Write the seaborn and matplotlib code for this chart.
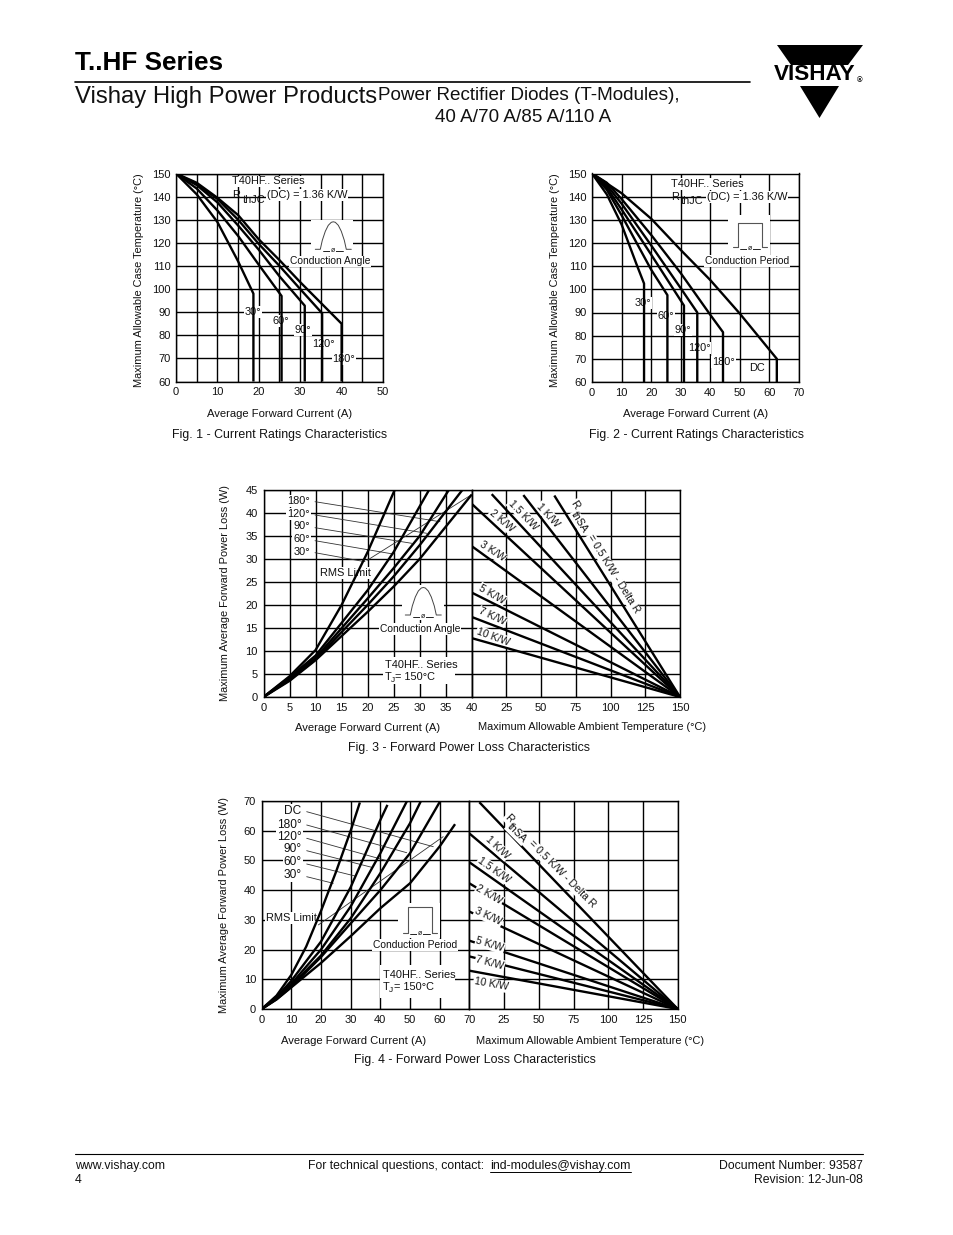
import matplotlib
matplotlib.use("Agg")
import matplotlib.pyplot as plt
from matplotlib.patches import Polygon, Rectangle
import seaborn as sns

# --- Fig. 1: corriente vs temperatura de caja (angulo de conduccion) ---
f1_30_x = [0, 5, 10, 15, 18.7, 18.7]
f1_30_y = [150, 141, 129, 112, 98, 60]
f1_60_x = [0, 5, 10, 15, 20, 25.5, 25.5]
f1_60_y = [150, 143.5, 134, 123, 110.5, 97, 60]
f1_90_x = [0, 5, 10, 15, 20, 25, 31.1, 31.1]
f1_90_y = [150, 145, 137.5, 127.5, 117, 105.5, 92.8, 60]
f1_120_x = [0, 5, 10, 15, 20, 25, 30, 35.3, 35.3]
f1_120_y = [150, 145.5, 139, 130, 119.5, 110, 100, 89.5, 60]
f1_180_x = [0, 5, 10, 15, 20, 25, 30, 35, 40, 40]
f1_180_y = [150, 146, 139.5, 132, 121.5, 112.5, 103, 94, 85, 60]

# --- Fig. 2: corriente vs temperatura de caja (periodo de conduccion) ---
f2_30_x = [0, 5, 10, 15, 17.6, 17.6]
f2_30_y = [150, 141, 128, 111, 102.5, 60]
f2_60_x = [0, 5, 10, 20, 25.5, 25.5]
f2_60_y = [150, 143, 132, 108.5, 97.5, 60]
f2_90_x = [0, 5, 10, 20, 31.1, 31.1]
f2_90_y = [150, 144, 134.5, 115, 93, 60]
f2_120_x = [0, 5, 10, 20, 30, 35.6, 35.6]
f2_120_y = [150, 145, 137, 119, 100.5, 90, 60]
f2_180_x = [0, 5, 10, 20, 30, 40, 44.3, 44.3]
f2_180_y = [150, 146, 139, 123.5, 107, 89, 81.5, 60]
f2_dc_x = [0, 10, 20, 30, 40, 50, 62.5, 62.5]
f2_dc_y = [150, 141.5, 130.5, 117, 104, 89.5, 70, 60]

# --- Fig. 3: perdidas ---
f3_30_x = [0, 5, 10, 15, 20, 25.2]
f3_30_y = [0, 4.5, 10.2, 20, 31.5, 45]
f3_60_x = [0, 5, 10, 20, 25, 31.8]
f3_60_y = [0, 4.3, 9, 23.2, 31.5, 45]
f3_90_x = [0, 5, 10, 20, 25, 30, 35.6]
f3_90_y = [0, 3.9, 8.5, 21.4, 28, 35, 45]
f3_120_x = [0, 5, 10, 20, 25, 30, 38.2]
f3_120_y = [0, 3.7, 8.2, 20, 26.2, 33, 45]
f3_180_x = [0, 5, 10, 20, 25, 30, 35, 40]
f3_180_y = [0, 3.5, 8, 18.5, 24, 30, 37, 44]
f3_rms_x = [19.9, 40]
f3_rms_y = [29.7, 44]
f3_r_x = [59.5, 37.2, 14.4, 0, 0, 0, 0, 0]
f3_r_y = [43.8, 43.9, 44.1, 42, 32.8, 22.7, 17.4, 12.8]

# --- Fig. 4: perdidas ---
f4_30_x = [0, 5, 10, 15, 20, 25, 30, 33.1]
f4_30_y = [0, 4.5, 11.5, 21, 33, 46, 60, 69.5]
f4_60_x = [0, 5, 10, 20, 30, 40, 42.4]
f4_60_y = [0, 4, 9.5, 22.7, 41, 63.6, 68.7]
f4_90_x = [0, 5, 10, 20, 30, 40, 48.9]
f4_90_y = [0, 3.8, 8.5, 20, 34.5, 52.4, 69.8]
f4_120_x = [0, 5, 10, 20, 30, 40, 50, 53.6]
f4_120_y = [0, 3.5, 8, 18, 30.5, 45.7, 62.5, 69.8]
f4_180_x = [0, 5, 10, 20, 30, 40, 50, 60.1]
f4_180_y = [0, 3.3, 7.5, 17.5, 28.8, 40, 52.4, 69.8]
f4_dc_x = [0, 5, 10, 20, 30, 40, 50, 60, 65.2]
f4_dc_y = [0, 3.2, 7.3, 15.5, 24.5, 33.9, 42.3, 54.7, 62.2]
f4_rms_x = [19.1, 61.2]
f4_rms_y = [28.3, 58]
f4_r_x = [7.2, 0, 0, 0, 0, 0, 0, 0]
f4_r_y = [69.6, 59.1, 49.4, 42.3, 32.8, 23, 17.7, 12.9]

# forma del icono de medio seno (pixeles relativos)
seno_dx = [-18, -13, -11, -8, -5, -2, 0, 2, 5, 8, 11, 13, 18]
seno_dy = [0, 0, -9, -18, -24, -27, -27.5, -27, -24, -18, -9, 0, 0]

sns.set_style("white")
plt.rcParams['font.family'] = ['Liberation Sans', 'DejaVu Sans']

W, H = 954, 1235
fig = plt.figure(figsize=(W / 100, H / 100), dpi=100)


def px(x, y):
    return x / W, 1 - y / H


def crear_ejes(x0, y0, x1, y1, xlim, ylim, xgrid, ygrid, xlabels, ylabels):
    """Ejes colocados en pixeles, con la rejilla negra del original."""
    ax = fig.add_axes([x0 / W, 1 - y1 / H, (x1 - x0) / W, (y1 - y0) / H])
    ax.set_xlim(xlim)
    ax.set_ylim(ylim)
    ax.set_xticks(xgrid, xlabels)
    ax.set_yticks(ygrid, ylabels)
    ax.grid(True, color='black', lw=1.0)
    ax.set_axisbelow(True)
    ax.tick_params(length=0, labelsize=8, pad=4, colors='#111111')
    for s in ax.spines.values():
        s.set_visible(True)
        s.set_color('black')
        s.set_linewidth(1.0)
    return ax


def curva(ax, xs, ys, lw=1.7):
    sns.lineplot(x=xs, y=ys, ax=ax, sort=False, estimator=None, color='black',
                 linewidth=lw, solid_capstyle='butt', zorder=3)


def texto(x, y, s, size=7.9, ha='left', va='center', rot=0, caja=False, z=2.6, **kw):
    xf, yf = px(x, y)
    extra = {}
    if caja:
        extra['bbox'] = dict(facecolor='white', edgecolor='none', pad=0.8)
    return fig.text(xf, yf, s, fontsize=size, ha=ha, va=va, rotation=rot,
                    rotation_mode='anchor', color='#111111', zorder=z, **extra, **kw)


def en_ejes(ax, x, y, s, size=7.9, ha='left', rot=0, caja=True, z=2.6):
    xf, yf = px(x, y)
    ax.text(xf, yf, s, transform=fig.transFigure, fontsize=size, ha=ha, va='center',
            rotation=rot, rotation_mode='anchor', color='#111111', zorder=z, clip_on=False,
            bbox=dict(facecolor='white', edgecolor='none', pad=0.6) if caja else None)


def mascara(ax, x0, y0, x1, y1):
    xa, ya = px(x0, y1)
    xb, yb = px(x1, y0)
    ax.add_patch(Rectangle((xa, ya), xb - xa, yb - ya, transform=fig.transFigure,
                           facecolor='white', edgecolor='none', zorder=2))


def linea_px(ax, xs, ys, color='#333333', lw=0.6, z=2.7):
    pts = [px(a, b) for a, b in zip(xs, ys)]
    ax.plot([p[0] for p in pts], [p[1] for p in pts], transform=fig.transFigure,
            color=color, lw=lw, zorder=z, clip_on=False)


def flecha_phi(ax, cx, y, ancho):
    linea_px(ax, [cx - ancho, cx + ancho], [y, y], color='black', lw=0.6)
    en_ejes(ax, cx, y - 0.5, 'ø', size=5, ha='center', z=2.8)


def icono_seno(ax, cx, base):
    linea_px(ax, [cx + d for d in seno_dx], [base + d for d in seno_dy], color='#444444', lw=0.7)
    flecha_phi(ax, cx, base + 1.5, 10)


def icono_rect(ax, x0, x1, top, base):
    linea_px(ax, [x0 - 5, x0, x0, x1, x1, x1 + 5], [base, base, top, top, base, base],
             color='#555555', lw=0.8)
    flecha_phi(ax, (x0 + x1) / 2, base + 1.5, 10)


def rth(ax, x, y, sub_x, sub_dy, dc_x):
    en_ejes(ax, x, y, 'R', caja=False)
    en_ejes(ax, sub_x, y + sub_dy, 'thJC', caja=False)
    en_ejes(ax, dc_x, y, '(DC) = 1.36 K/W')


# --- Cabecera ---
texto(75, 63, 'T..HF Series', size=18.6, weight='bold', color=None) if False else None
fig.text(*px(75, 63), 'T..HF Series', fontsize=18.8, fontweight='bold', va='center', color='black')
fig.text(*px(75, 97), 'Vishay High Power Products', fontsize=17.2, va='center', color='#111111')
fig.text(*px(378, 95), 'Power Rectifier Diodes (T-Modules),', fontsize=13.6, va='center', color='#111111')
fig.text(*px(435, 118), '40 A/70 A/85 A/110 A', fontsize=13.6, va='center', color='#111111')
fig.add_artist(plt.Line2D([75 / W, 750 / W], [1 - 82 / H] * 2, color='black', lw=1.2))

# logo
for tri in ([(777, 45), (863, 45), (848, 65), (791, 65)], [(800, 86), (839, 86), (819.5, 118)]):
    fig.add_artist(Polygon([px(a, b) for a, b in tri], closed=True, transform=fig.transFigure,
                           facecolor='black', edgecolor='none'))
fig.text(*px(774, 75), 'VISHAY', fontsize=16.2, fontweight='bold', va='center', color='black')
fig.text(*px(860, 81), '®', fontsize=5.5, fontweight='bold', ha='center', va='center', color='black')

# --- Fig. 1 ---
ax1 = crear_ejes(176, 173.5, 383, 381.5, (0, 50), (60, 150),
                 list(range(0, 51, 5)), list(range(60, 151, 10)),
                 ['0', '', '10', '', '20', '', '30', '', '40', '', '50'],
                 [str(v) for v in range(60, 151, 10)])
for xs, ys in [(f1_30_x, f1_30_y), (f1_60_x, f1_60_y), (f1_90_x, f1_90_y),
               (f1_120_x, f1_120_y), (f1_180_x, f1_180_y)]:
    curva(ax1, xs, ys)
mascara(ax1, 311.5, 220, 353, 256)
icono_seno(ax1, 333.3, 249.3)
en_ejes(ax1, 232, 181.5, 'T40HF.. Series')
rth(ax1, 232, 195, 243, 5, 267)
en_ejes(ax1, 290, 261.5, 'Conduction Angle', size=7.4)
for s, x, y in [('30°', 253, 312), ('60°', 281, 321), ('90°', 303, 330),
                ('120°', 323, 344), ('180°', 344, 359)]:
    en_ejes(ax1, x, y, s, ha='center')
texto(139, 280, 'Maximum Allowable Case Temperature (°C)', size=7.9, ha='center', rot=90)
texto(280, 414, 'Average Forward Current (A)', size=8.1, ha='center')
texto(172, 435, 'Fig. 1 - Current Ratings Characteristics', size=8.9)

# --- Fig. 2 ---
ax2 = crear_ejes(592, 173.5, 799, 382, (0, 70), (60, 150),
                 list(range(0, 71, 10)), list(range(60, 151, 10)),
                 [str(v) for v in range(0, 71, 10)],
                 [str(v) for v in range(60, 151, 10)])
for xs, ys in [(f2_30_x, f2_30_y), (f2_60_x, f2_60_y), (f2_90_x, f2_90_y),
               (f2_120_x, f2_120_y), (f2_180_x, f2_180_y), (f2_dc_x, f2_dc_y)]:
    curva(ax2, xs, ys)
mascara(ax2, 728, 215, 770, 255)
icono_rect(ax2, 738.3, 761.7, 223, 247.3)
en_ejes(ax2, 671, 184, 'T40HF.. Series')
rth(ax2, 671, 197, 681, 4, 707)
en_ejes(ax2, 705, 261, 'Conduction Period', size=7.4)
for s, x, y in [('30°', 643, 303), ('60°', 665.7, 315.7), ('90°', 682.7, 330),
                ('120°', 699.3, 348.3), ('180°', 723.3, 362), ('DC', 757.3, 368.3)]:
    en_ejes(ax2, x, y, s, ha='center')
texto(555, 280, 'Maximum Allowable Case Temperature (°C)', size=7.9, ha='center', rot=90)
texto(696, 414, 'Average Forward Current (A)', size=8.1, ha='center')
texto(589, 435, 'Fig. 2 - Current Ratings Characteristics', size=8.9)

# --- Fig. 3 ---
ax3 = crear_ejes(263.5, 490, 471.7, 697, (0, 40), (0, 45),
                 list(range(0, 41, 5)), list(range(0, 46, 5)),
                 [str(v) for v in range(0, 41, 5)],
                 [str(v) for v in range(0, 46, 5)])
for xs, ys in [(f3_30_x, f3_30_y), (f3_60_x, f3_60_y), (f3_90_x, f3_90_y),
               (f3_120_x, f3_120_y), (f3_180_x, f3_180_y)]:
    curva(ax3, xs, ys)
sns.lineplot(x=f3_rms_x, y=f3_rms_y, ax=ax3, sort=False, estimator=None, color='#333333',
             linewidth=0.6, zorder=2.7)
mascara(ax3, 402, 585, 444, 620)
mascara(ax3, 383, 657, 455, 684)
icono_seno(ax3, 423.3, 615)
en_ejes(ax3, 380, 629, 'Conduction Angle', size=7.4)
en_ejes(ax3, 385, 664.5, 'T40HF.. Series', caja=False)
en_ejes(ax3, 385, 676.7, 'T', caja=False)
en_ejes(ax3, 391, 680, 'J', size=6, caja=False)
en_ejes(ax3, 395, 676.7, '= 150°C', caja=False)
en_ejes(ax3, 320, 573, 'RMS Limit', size=7.9)
for s, y in [('180°', 501), ('120°', 514), ('90°', 526), ('60°', 539), ('30°', 552)]:
    en_ejes(ax3, 310, y, s, ha='right')
for x1, y0, y1 in [(440, 501.7, 521.7), (426.7, 515, 533.3), (411.7, 527.7, 543.3),
                   (393, 540.7, 554), (365, 552.7, 561.7)]:
    linea_px(ax3, [315, x1], [y0, y1])

ax3b = crear_ejes(471.7, 490, 680, 697, (0, 150), (0, 45),
                  list(range(0, 151, 25)), list(range(0, 46, 5)),
                  ['', '25', '50', '75', '100', '125', '150'], [''] * 10)
for x0, y0 in zip(f3_r_x, f3_r_y):
    curva(ax3b, [x0, 150], [y0, 0])
for s, x, y, r in [('R', 575, 505, -58), ('thSA', 579.3, 522.3, -58),
                   ('= 0.5 K/W - Delta R', 613.3, 574, -58),
                   ('1 K/W', 548.3, 515, -47), ('1.5 K/W', 523.3, 515, -46),
                   ('2 K/W', 501.7, 521, -40), ('3 K/W', 492.3, 551.7, -33),
                   ('5 K/W', 492.3, 594.3, -30), ('7 K/W', 492.3, 616.7, -25),
                   ('10 K/W', 493.3, 636.7, -20)]:
    en_ejes(ax3b, x, y, s, size=7.6, ha='center', rot=r)
texto(225, 593, 'Maximum Average Forward Power Loss (W)', size=7.9, ha='center', rot=90)
texto(368, 728, 'Average Forward Current (A)', size=8.1, ha='center')
texto(592, 727, 'Maximum Allowable Ambient Temperature (°C)', size=7.9, ha='center')
texto(348, 748, 'Fig. 3 - Forward Power Loss Characteristics', size=8.9)

# --- Fig. 4 ---
ax4 = crear_ejes(261.7, 801, 469.3, 1009, (0, 70), (0, 70),
                 list(range(0, 71, 10)), list(range(0, 71, 10)),
                 [str(v) for v in range(0, 71, 10)],
                 [str(v) for v in range(0, 71, 10)])
for xs, ys in [(f4_30_x, f4_30_y), (f4_60_x, f4_60_y), (f4_90_x, f4_90_y),
               (f4_120_x, f4_120_y), (f4_180_x, f4_180_y), (f4_dc_x, f4_dc_y)]:
    curva(ax4, xs, ys)
sns.lineplot(x=f4_rms_x, y=f4_rms_y, ax=ax4, sort=False, estimator=None, color='#333333',
             linewidth=0.6, zorder=2.7)
mascara(ax4, 398, 903, 440, 938)
mascara(ax4, 380, 965, 455, 998)
icono_rect(ax4, 408.3, 431.7, 907.3, 932.7)
en_ejes(ax4, 373, 945, 'Conduction Period', size=7.4)
en_ejes(ax4, 382.7, 974.5, 'T40HF.. Series', caja=False)
en_ejes(ax4, 382.7, 987.3, 'T', caja=False)
en_ejes(ax4, 389, 990.5, 'J', size=6, caja=False)
en_ejes(ax4, 394, 987.3, '= 150°C', caja=False)
en_ejes(ax4, 266, 917.7, 'RMS Limit', size=7.9)
for s, y in [('DC', 811), ('180°', 825), ('120°', 836.7), ('90°', 849.3), ('60°', 862), ('30°', 875)]:
    en_ejes(ax4, 301.7, y, s, size=8.6, ha='right')
for x1, y0, y1 in [(433.3, 811.7, 846.7), (406.7, 825, 852.7), (386.7, 838.3, 860.7),
                   (371.7, 850.7, 867.3), (355, 864, 876), (333.3, 876.7, 883.3)]:
    linea_px(ax4, [306.7, x1], [y0, y1])

ax4b = crear_ejes(469.3, 801, 677.7, 1009, (0, 150), (0, 70),
                  list(range(0, 151, 25)), list(range(0, 71, 10)),
                  ['', '25', '50', '75', '100', '125', '150'], [''] * 8)
for x0, y0 in zip(f4_r_x, f4_r_y):
    curva(ax4b, [x0, 150], [y0, 0])
for s, x, y, r in [('R', 509, 818.3, -45), ('thSA', 516.7, 833.3, -45),
                   ('= 0.5 K/W - Delta R', 561.7, 874.3, -45),
                   ('1 K/W', 497.3, 847.3, -43), ('1.5 K/W', 494.3, 870, -35),
                   ('2 K/W', 489.3, 895, -30), ('3 K/W', 488.3, 916.7, -25),
                   ('5 K/W', 490, 944.3, -17), ('7 K/W', 490, 962.3, -15),
                   ('10 K/W', 491, 984.3, -10)]:
    en_ejes(ax4b, x, y, s, size=7.6, ha='center', rot=r, z=4)
texto(224, 905, 'Maximum Average Forward Power Loss (W)', size=7.9, ha='center', rot=90)
texto(354, 1041, 'Average Forward Current (A)', size=8.1, ha='center')
texto(590, 1041, 'Maximum Allowable Ambient Temperature (°C)', size=7.9, ha='center')
texto(354, 1060, 'Fig. 4 - Forward Power Loss Characteristics', size=8.9)

# --- Pie ---
fig.add_artist(plt.Line2D([75 / W, 863 / W], [1 - 1154 / H] * 2, color='black', lw=0.8))
texto(75, 1166, 'www.vishay.com', size=8.8)
texto(75, 1180, '4', size=8.8)
texto(308, 1166, 'For technical questions, contact: ', size=8.8)
texto(490, 1166, 'ind-modules@vishay.com', size=8.8)
fig.add_artist(plt.Line2D([490 / W, 631 / W], [1 - 1172 / H] * 2, color='black', lw=0.7))
texto(863, 1166, 'Document Number: 93587', size=8.8, ha='right')
texto(863, 1180, 'Revision: 12-Jun-08', size=8.8, ha='right')

fig.savefig('out.png', dpi=100, facecolor='white')
